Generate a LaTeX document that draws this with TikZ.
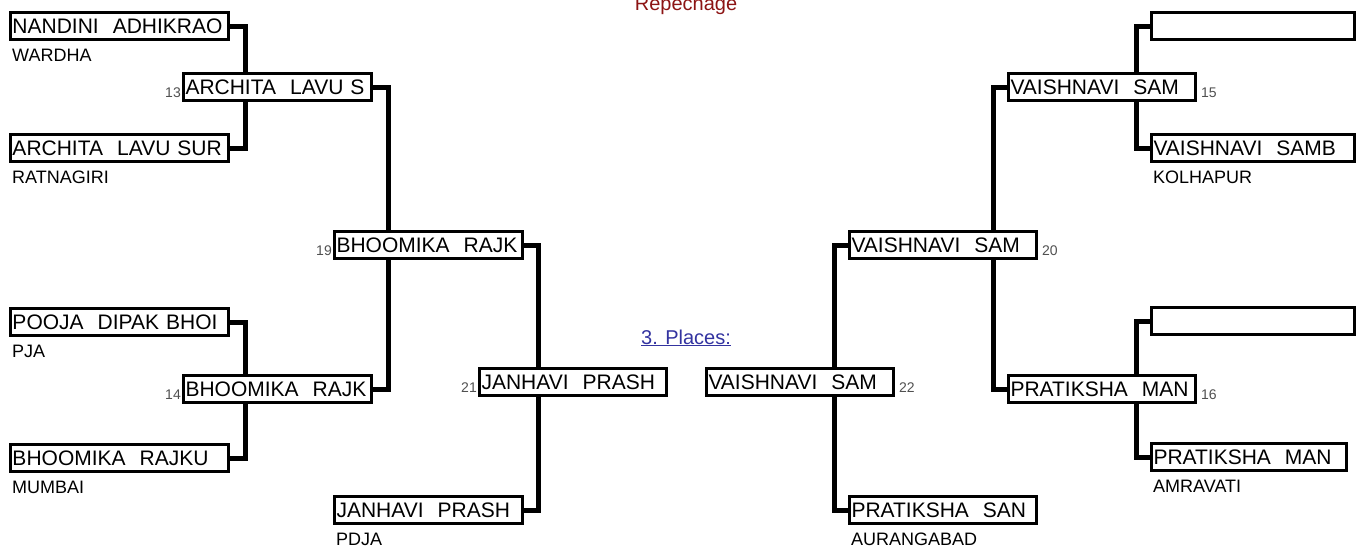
\documentclass[tikz,border=0pt]{standalone}
\usepackage{fontspec}
\setmainfont{Liberation Sans}
\usetikzlibrary{backgrounds}
\definecolor{repred}{RGB}{140,20,20}
\definecolor{placeblue}{RGB}{51,51,160}
\definecolor{numgray}{RGB}{80,80,80}
\begin{document}
\begin{tikzpicture}[x=1pt,y=-1pt,
  entry/.style={draw,line width=3pt,fill=white,anchor=west,inner xsep=2pt,inner ysep=2pt,
    minimum height=27pt,text height=15pt,text depth=0pt,text width=#1,align=left,
    font=\fontsize{21}{24}\selectfont},
  link/.style={line width=5pt},
  city/.style={anchor=base west,inner sep=0pt,font=\fontsize{18}{20}\selectfont},
  num/.style={text=numgray,inner sep=0pt,font=\fontsize{14}{16}\selectfont}]
  \useasboundingbox (0,0) rectangle (1363,547);
  % headings
  \node[anchor=base,text=repred,font=\fontsize{20}{24}\selectfont] (rep) at (686,10) {Repechage};
  \node[anchor=base,text=placeblue,font=\fontsize{20}{24}\selectfont] (places) at (686,344) {\underline{3. Places:}};
  % left half
  \node[entry=214pt] (L1) at (9,26) {NANDINI~~ADHIKRAO};
  \node[entry=214pt] (L2) at (9,148) {ARCHITA~~LAVU SUR};
  \node[entry=214pt] (L3) at (9,322) {POOJA~~DIPAK BHOI};
  \node[entry=214pt] (L4) at (9,458) {BHOOMIKA~~RAJKU};
  \node[entry=184pt] (W13) at (182,87) {ARCHITA~~LAVU S};
  \node[entry=184pt] (W14) at (182,389) {BHOOMIKA~~RAJK};
  \node[entry=184pt] (W19) at (333,245) {BHOOMIKA~~RAJK};
  \node[entry=184pt] (L5) at (333,510) {JANHAVI~~PRASH};
  \node[entry=183pt] (W21) at (478,382) {JANHAVI~~PRASH};
  % right half
  \node[entry=199pt] (R1) at (1150,26) {};
  \node[entry=199pt] (R2) at (1150,148) {VAISHNAVI~~SAMB};
  \node[entry=199pt] (R3) at (1150,321) {};
  \node[entry=191pt] (R4) at (1150,457) {PRATIKSHA~~MAN};
  \node[entry=183pt] (W15) at (1007,87) {VAISHNAVI~~SAM};
  \node[entry=183pt] (W16) at (1007,389) {PRATIKSHA~~MAN};
  \node[entry=183pt] (W20) at (848,245) {VAISHNAVI~~SAM};
  \node[entry=183pt] (R5) at (848,510) {PRATIKSHA~~SAN};
  \node[entry=183pt] (W22) at (705,382) {VAISHNAVI~~SAM};
  % cities
  \node[city] (L1c) at ([xshift=3pt,yshift=-20pt]L1.south west) {WARDHA};
  \node[city] (L2c) at ([xshift=3pt,yshift=-20pt]L2.south west) {RATNAGIRI};
  \node[city] (L3c) at ([xshift=3pt,yshift=-20pt]L3.south west) {PJA};
  \node[city] (L4c) at ([xshift=3pt,yshift=-20pt]L4.south west) {MUMBAI};
  \node[city] (L5c) at ([xshift=3pt,yshift=-20pt]L5.south west) {PDJA};
  \node[city] (R2c) at ([xshift=3pt,yshift=-20pt]R2.south west) {KOLHAPUR};
  \node[city] (R4c) at ([xshift=3pt,yshift=-20pt]R4.south west) {AMRAVATI};
  \node[city] (R5c) at ([xshift=3pt,yshift=-20pt]R5.south west) {AURANGABAD};
  % bout numbers
  \node[num,anchor=base east] (n13) at ([xshift=-1pt,yshift=-10pt]W13.west) {13};
  \node[num,anchor=base east] (n14) at ([xshift=-1pt,yshift=-10pt]W14.west) {14};
  \node[num,anchor=base east] (n19) at ([xshift=-1pt,yshift=-10pt]W19.west) {19};
  \node[num,anchor=base east] (n21) at ([xshift=-1pt,yshift=-10pt]W21.west) {21};
  \node[num,anchor=base west] (n15) at ([xshift=4pt,yshift=-10pt]W15.east) {15};
  \node[num,anchor=base west] (n16) at ([xshift=4pt,yshift=-10pt]W16.east) {16};
  \node[num,anchor=base west] (n20) at ([xshift=4pt,yshift=-10pt]W20.east) {20};
  \node[num,anchor=base west] (n22) at ([xshift=4pt,yshift=-10pt]W22.east) {22};
  % bracket lines, behind the boxes
  \begin{scope}[on background layer]
    \draw[link] (L1.east) -- ++(15,0) |- (L2.east); \draw[link] (L3.east) -- ++(15,0) |- (L4.east);
    \draw[link] (W13.east) -- ++(15,0) |- (W14.east); \draw[link] (W19.east) -- ++(14,0) |- (L5.east);
    \draw[link] (R1.west) -- ++(-14,0) |- (R2.west); \draw[link] (R3.west) -- ++(-14,0) |- (R4.west);
    \draw[link] (W15.west) -- ++(-14,0) |- (W16.west); \draw[link] (W20.west) -- ++(-14,0) |- (R5.west);
  \end{scope}
\end{tikzpicture}
\end{document}
